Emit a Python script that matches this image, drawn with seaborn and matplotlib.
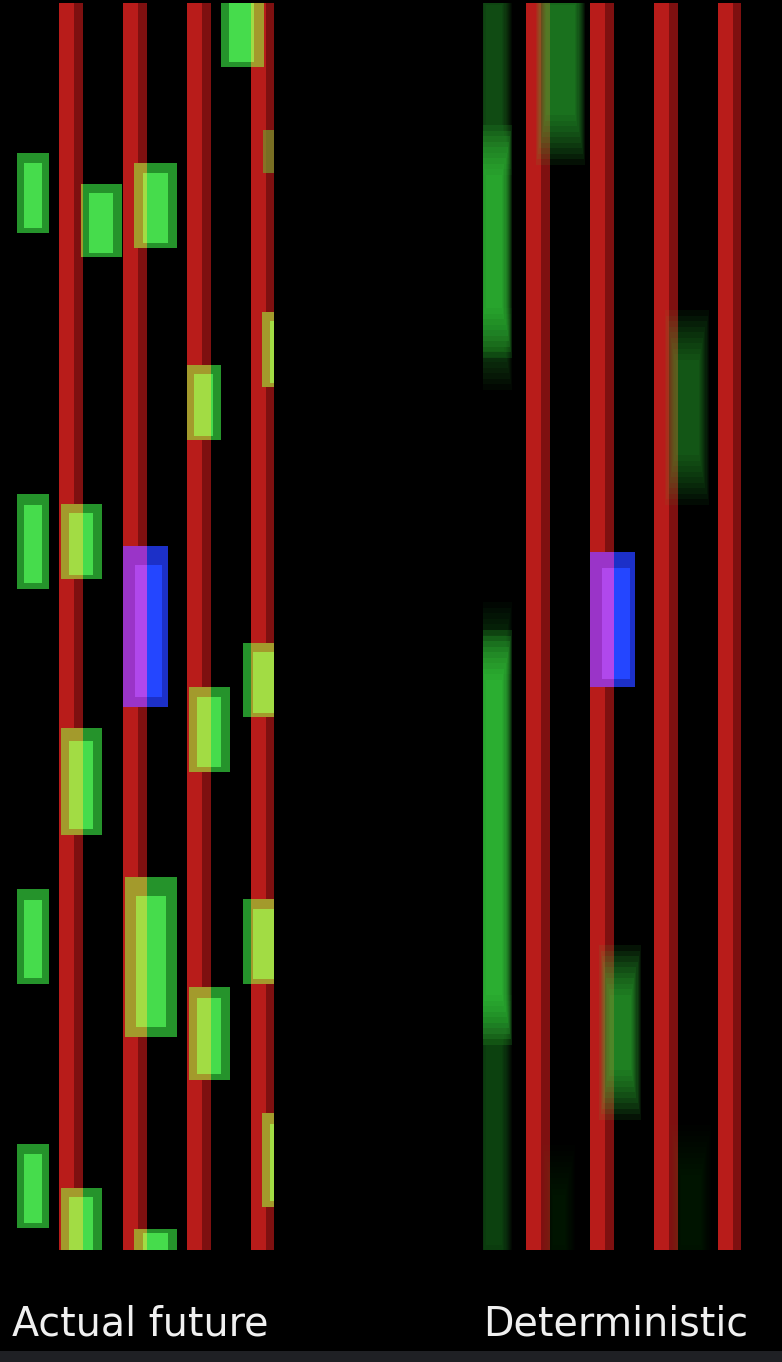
import matplotlib
matplotlib.use("Agg")
import matplotlib.pyplot as plt
from matplotlib.patches import Rectangle
import seaborn as sns

# ---------------- data ----------------
# lane dividers (red stripes), in lane units
dividers = [1, 2, 3, 4]
road_length = 124.7  # metres shown

# "Actual future": surrounding vehicles (x in lane units, y in metres)
car_x0 = [0.16, 1.16, 1.99, 3.34, 4.00, 3.99, 2.82, 0.16, 0.84, 3.68, 2.84, 0.84, 0.16, 1.85, 3.68, 2.84, 3.99, 0.16, 0.84, 1.99]
car_x1 = [0.66, 1.80, 2.66, 4.01, 4.60, 4.60, 3.34, 0.66, 1.49, 4.50, 3.49, 1.49, 0.66, 2.66, 4.50, 3.49, 4.60, 0.66, 1.49, 2.66]
car_y0 = [101.7, 99.3, 100.2, 118.3, 107.7, 86.3, 81.0, 66.1, 67.1, 53.3, 47.8, 41.5, 26.6, 21.3, 26.6, 17.0, 4.3, 2.2, -1.0, -1.0]
car_y1 = [109.7, 106.6, 108.7, 126.0, 112.0, 93.8, 88.5, 75.6, 74.6, 60.7, 56.3, 52.2, 36.1, 37.3, 35.1, 26.3, 13.7, 10.6, 6.2, 2.1]
car_vis = [1, 1, 1, 1, 0.45, 1, 1, 1, 1, 1, 1, 1, 1, 1, 1, 1, 1, 1, 1, 1]

# ego vehicle (blue) in each panel
ego_x0 = [1.82, 1.82]
ego_x1 = [2.51, 2.52]
ego_y0 = [54.3, 56.3]
ego_y1 = [70.4, 69.8]

# "Deterministic" prediction: blurred occupancy segments
pred_x0 = [0.10, 0.10, 0.10, 0.10, 0.10, 0.10, 1.05, 1.16, 2.04, 3.07, 3.15]
pred_x1 = [0.52, 0.52, 0.52, 0.52, 0.52, 0.52, 1.66, 1.50, 2.53, 3.59, 3.62]
pred_y0 = [110.0, 91.7, 88.5, 59.5, 23.0, -2.0, 111.0, -2.0, 15.5, 77.0, -2.0]
pred_y1 = [127.0, 110.0, 91.7, 62.3, 59.5, 23.0, 127.0, 8.0, 28.0, 91.5, 10.0]
pred_level = [0.38, 0.80, 0.35, 0.30, 0.85, 0.32, 0.55, 0.12, 0.62, 0.42, 0.12]

panel_titles = ["Actual future", "Deterministic"]

# ---------------- style ----------------
sns.set_theme(style="dark", rc={"figure.facecolor": "black", "axes.facecolor": "black",
                                "savefig.facecolor": "black"})
plt.rcParams['font.family'] = ['DejaVu Sans']

RED = "#b81c1a"
RED_DARK = "#7e1010"
HW = 0.18  # stripe half width
GREEN_STYLE = dict(out_c="#25932b", in_c="#46dc4c", mix_out="#a39a2c", mix_in="#a2dc44",
                   inset=(0.20, 0.22))
BLUE_STYLE = dict(out_c="#1c30c8", in_c="#2446ff", mix_out="#9a34c8", mix_in="#b048ec",
                  inset=(0.26, 0.12))
PRED = "#36d03c"

W, H = 782, 1362
fig = plt.figure(figsize=(W / 100, H / 100), dpi=100)
xlim = (0.133, 4.164)
ax_left_px = [15.5, 482.5]
axes = []
for lp in ax_left_px:
    ax = fig.add_axes([lp / W, 112 / H, 258 / W, 1247 / H])
    ax.set_xlim(*xlim)
    ax.set_ylim(0, road_length)
    ax.set_axis_off()
    axes.append(ax)


def draw_dividers(ax):
    for c in dividers:
        ax.axvspan(c - HW, c + 0.05, color=RED, lw=0, zorder=1)
        ax.axvspan(c + 0.05, c + HW, color=RED_DARK, lw=0, zorder=1)


def draw_vehicle(ax, x0, x1, y0, y1, out_c, in_c, mix_out, mix_in, inset, vis=1.0):
    w, h = x1 - x0, y1 - y0
    ix0, ix1 = x0 + inset[0] * w, x1 - inset[1] * w
    iy0, iy1 = y0 + 0.06 * h, y1 - 0.12 * h
    ax.add_patch(Rectangle((x0, y0), w, h, color=out_c, lw=0, zorder=2, alpha=vis))
    for c in dividers:
        a0, a1 = max(x0, c - HW), min(x1, c + HW)
        if a1 > a0:
            ax.add_patch(Rectangle((a0, y0), a1 - a0, h, color=mix_out, lw=0, zorder=2.2, alpha=vis))
    if vis < 1:
        return
    ax.add_patch(Rectangle((ix0, iy0), ix1 - ix0, iy1 - iy0, color=in_c, lw=0, zorder=2.5))
    for c in dividers:
        b0, b1 = max(ix0, c - HW), min(ix1, c + HW)
        if b1 > b0:
            ax.add_patch(Rectangle((b0, iy0), b1 - b0, iy1 - iy0, color=mix_in, lw=0, zorder=2.7))


def draw_blob(ax, x0, x1, y0, y1, level, n=10, ex=0.08, ey=2.5):
    a = 1 - (1 - level) ** (1.0 / n)
    for k in range(n):
        f = 2 * k / (n - 1) - 1
        dx, dy = ex * f, ey * f
        w, h = (x1 - x0) + 2 * dx, (y1 - y0) + 2 * dy
        if w > 0 and h > 0:
            ax.add_patch(Rectangle((x0 - dx, y0 - dy), w, h, color=PRED, alpha=a, lw=0, zorder=3))


axL, axR = axes
# left panel: actual future
draw_dividers(axL)
for x0, x1, y0, y1, v in zip(car_x0, car_x1, car_y0, car_y1, car_vis):
    draw_vehicle(axL, x0, x1, y0, y1, vis=v, **GREEN_STYLE)
draw_vehicle(axL, ego_x0[0], ego_x1[0], ego_y0[0], ego_y1[0], **BLUE_STYLE)

# right panel: deterministic prediction
draw_dividers(axR)
for x0, x1, y0, y1, lv in zip(pred_x0, pred_x1, pred_y0, pred_y1, pred_level):
    draw_blob(axR, x0, x1, y0, y1, lv)
draw_vehicle(axR, ego_x0[1], ego_x1[1], ego_y0[1], ego_y1[1], **BLUE_STYLE)

# titles under each panel
for lp, t in zip([12, 483], panel_titles):
    fig.text(lp / W, 1 - 1336 / H, t, fontsize=28.5, color="#f0f0f0", ha="left", va="baseline")

# bottom strip
fig.add_artist(Rectangle((0, 0), 1, 11 / H, transform=fig.transFigure, color="#1f2024", lw=0))

fig.savefig("out.png", dpi=100)
